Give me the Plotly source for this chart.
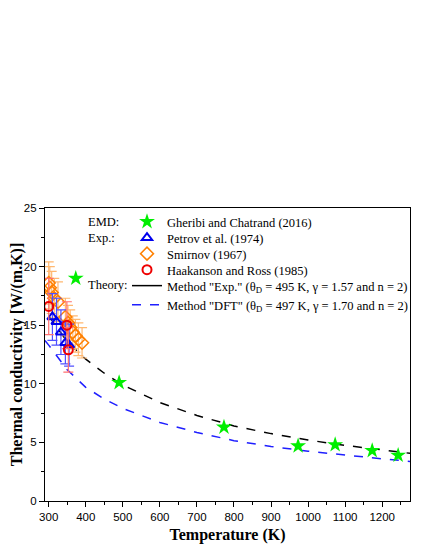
import plotly.graph_objects as go

# EMD (Gheribi and Chatrand 2016)
temp_emd = [373, 490, 773, 973, 1073, 1173, 1243]
k_emd = [19.0, 10.1, 6.3, 4.7, 4.8, 4.3, 3.9]

# Exp. Petrov et al. (1974)
temp_petrov = [310, 321, 333, 345, 355]
k_petrov = [15.7, 15.3, 14.4, 13.5, 13.3]
err_petrov = [2.0, 2.0, 1.9, 1.8, 1.8]

# Exp. Smirnov (1967)
temp_smirnov = [300, 303, 308, 315, 325, 345, 352, 358, 365, 372, 380, 390]
k_smirnov = [18.6, 18.2, 17.8, 17.3, 17.0, 15.7, 15.2, 14.8, 14.4, 14.1, 13.8, 13.5]
err_smirnov = [1.8, 1.8, 1.8, 1.7, 1.7, 1.6, 1.5, 1.5, 1.4, 1.4, 1.4, 1.3]

# Exp. Haakanson and Ross (1985)
temp_haak = [300, 349, 353]
k_haak = [16.6, 15.0, 12.9]
err_haak = [2.4, 2.0, 1.9]

# Theory curves
temp_theory = [300, 350, 400, 450, 500, 600, 700, 800, 900, 1000, 1100, 1200, 1275]
k_exp_method = [15.8, 13.6, 12.1, 10.9, 9.9, 8.4, 7.3, 6.4, 5.75, 5.2, 4.75, 4.35, 4.07]
temp_dft = [290, 300, 350, 400, 450, 500, 600, 700, 800, 900, 1000, 1100, 1200, 1275]
k_dft_method = [13.7, 13.3, 11.2, 9.7, 8.7, 7.9, 6.7, 5.85, 5.15, 4.65, 4.25, 3.9, 3.6, 3.38]

serif = "Liberation Serif"
sans = "Liberation Sans"

# page body adds an 8px offset, so the margins are shifted to compensate
PLOT_L, PLOT_R, PLOT_T, PLOT_B = 45, 410, 208, 501


def px_x(x):
    return (x - PLOT_L) / (PLOT_R - PLOT_L)


def px_y(y):
    return (PLOT_B - y) / (PLOT_B - PLOT_T)


fig = go.Figure()

fig.add_trace(go.Scatter(
    x=temp_theory, y=k_exp_method, mode="lines", showlegend=False,
    line=dict(color="black", width=1.5, dash="dash"),
))
fig.add_trace(go.Scatter(
    x=temp_dft, y=k_dft_method, mode="lines", showlegend=False,
    line=dict(color="#1f1fff", width=1.5, dash="dash"),
))
fig.add_trace(go.Scatter(
    x=temp_smirnov, y=k_smirnov, mode="markers", name="Smirnov (1967)",
    marker=dict(symbol="diamond-open", size=10, color="#ff8000", line=dict(width=1.5)),
    error_y=dict(type="data", array=err_smirnov, color="#ffb870", thickness=1.2, width=5),
    legend="legend3",
))
fig.add_trace(go.Scatter(
    x=temp_petrov, y=k_petrov, mode="markers", name="Petrov et al. (1974)",
    marker=dict(symbol="triangle-up-open", size=9, color="#0000ee", line=dict(width=2)),
    error_y=dict(type="data", array=err_petrov, color="#5050ff", thickness=1.2, width=5),
    legend="legend2",
))
fig.add_trace(go.Scatter(
    x=temp_haak, y=k_haak, mode="markers", name="Haakanson and Ross (1985)",
    marker=dict(symbol="circle-open", size=9, color="#ee0000", line=dict(width=2)),
    error_y=dict(type="data", array=err_haak, color="#ff7070", thickness=1.2, width=5),
    legend="legend4",
))
fig.add_trace(go.Scatter(
    x=temp_emd, y=k_emd, mode="markers", name="Gheribi and Chatrand (2016)",
    marker=dict(symbol="star", size=12, color="#00ee00", line=dict(width=0)),
    legend="legend",
))
# legend-only keys for the theory curves (solid black in the original legend)
fig.add_trace(go.Scatter(
    x=[None], y=[None], mode="lines",
    name='Method "Exp." (θ<sub>D</sub> = 495 K, γ = 1.57 and n = 2)',
    line=dict(color="black", width=1.5), legend="legend5",
))
fig.add_trace(go.Scatter(
    x=[None], y=[None], mode="lines",
    name='Method "DFT" (θ<sub>D</sub> = 497 K, γ = 1.70 and n = 2)',
    line=dict(color="#1f1fff", width=1.5, dash="dash"), legend="legend6",
))

for label, ypos in [("EMD:", 222), ("Exp.:", 238), ("Theory:", 285)]:
    fig.add_annotation(
        text=label, xref="paper", yref="paper", x=px_x(86),
        y=px_y(ypos), xanchor="left", yanchor="middle", showarrow=False,
        font=dict(family=serif, size=12.5, color="black"),
    )

legend_rows = [222, 238, 254, 270, 286, 305]
legend_names = ["legend", "legend2", "legend3", "legend4", "legend5", "legend6"]
legend_layout = {}
for name, row in zip(legend_names, legend_rows):
    legend_layout[name] = dict(
        x=px_x(127), y=px_y(row), xanchor="left", yanchor="middle",
        bgcolor="rgba(0,0,0,0)", font=dict(family=serif, size=12.5),
        itemwidth=30, borderwidth=0,
    )

fig.update_layout(
    width=425, height=550,
    margin=dict(l=PLOT_L - 8, r=425 - PLOT_R + 8, t=PLOT_T - 8, b=550 - PLOT_B + 8),
    paper_bgcolor="white", plot_bgcolor="white",
    font=dict(family=sans, size=12, color="black"),
    xaxis=dict(
        range=[290, 1275], dtick=100, tick0=300, tickangle=0, showgrid=False, zeroline=False,
        showline=True, linecolor="black", linewidth=1.2, mirror=True,
        ticks="outside", ticklen=5, tickwidth=1.2, tickcolor="black",
        minor=dict(ticks="outside", ticklen=3, dtick=50, tickcolor="black"),
        tickfont=dict(family=sans, size=11.5), automargin=False,
        title=dict(text="<b>Temperature (K)</b>", font=dict(family=serif, size=16), standoff=6),
    ),
    yaxis=dict(
        range=[0, 25], dtick=5, showgrid=False, zeroline=False,
        showline=True, linecolor="black", linewidth=1.2, mirror=True,
        ticks="outside", ticklen=5, tickwidth=1.2, tickcolor="black",
        minor=dict(ticks="outside", ticklen=3, dtick=2.5, tickcolor="black"),
        tickfont=dict(family=sans, size=11.5), automargin=False,
        title=dict(text="<b>Thermal conductivity [W/(m.K)]</b>", font=dict(family=serif, size=16), standoff=6),
    ),
    **legend_layout,
)

fig.write_html("out.html")
